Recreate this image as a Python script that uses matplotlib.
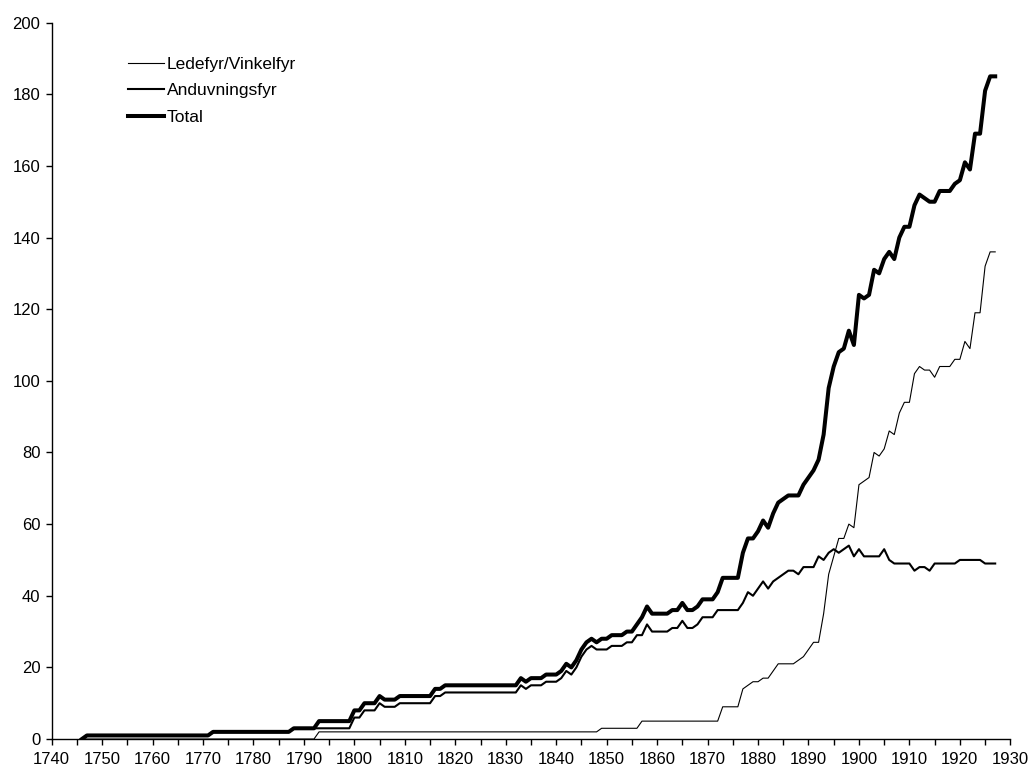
import matplotlib
matplotlib.use("Agg")
import matplotlib.pyplot as plt
from matplotlib.ticker import MultipleLocator

plt.rcParams['font.family'] = ['Liberation Sans', 'DejaVu Sans']

years = list(range(1746, 1928))

ledefyr = [
    0,
    0, 0, 0, 0, 0, 0, 0, 0, 0, 0, 0, 0, 0, 0, 0, 0, 0, 0, 0, 0, 0, 0, 0, 0, 0,   # 1747-1771
    0, 0, 0, 0, 0, 0, 0, 0, 0, 0, 0, 0, 0, 0, 0, 0,                              # 1772-1787
    0, 0, 0, 0, 0,                                                               # 1788-1792
    2, 2, 2, 2, 2, 2, 2,                                                         # 1793-1799
    2, 2, 2, 2, 2, 2, 2, 2, 2, 2, 2, 2, 2, 2, 2, 2, 2, 2, 2, 2,                  # 1800-1819
    2, 2, 2, 2, 2, 2, 2, 2, 2, 2, 2, 2, 2, 2, 2, 2, 2, 2, 2, 2,                  # 1820-1839
    2, 2, 2, 2, 2, 2, 2, 2, 2,                                                   # 1840-1848
    3, 3, 3, 3, 3, 3, 3, 3,                                                      # 1849-1856
    5, 5, 5, 5, 5, 5, 5, 5, 5, 5, 5, 5, 5, 5, 5, 5,                              # 1857-1872
    9, 9, 9, 9,                                                                  # 1873-1876
    14, 15, 16, 16, 17, 17, 19, 21, 21, 21, 21, 22, 23, 25, 27, 27,              # 1877-1892
    35, 46, 51, 56, 56, 60, 59, 71, 72, 73, 80, 79, 81, 86, 85, 91, 94, 94,      # 1893-1910
    102, 104, 103, 103, 101, 104, 104, 104, 106, 106, 111, 109, 119, 119,        # 1911-1924
    132, 136, 136,                                                               # 1925-1927
]

anduvningsfyr = [
    0,
    1, 1, 1, 1, 1, 1, 1, 1, 1, 1, 1, 1, 1, 1, 1, 1, 1, 1, 1, 1, 1, 1, 1, 1, 1,   # 1747-1771
    2, 2, 2, 2, 2, 2, 2, 2, 2, 2, 2, 2, 2, 2, 2, 2,                              # 1772-1787
    3, 3, 3, 3, 3,                                                               # 1788-1792
    3, 3, 3, 3, 3, 3, 3,                                                         # 1793-1799
    6, 6, 8, 8, 8, 10, 9, 9, 9, 10, 10, 10, 10, 10, 10, 10, 12, 12, 13, 13,      # 1800-1819
    13, 13, 13, 13, 13, 13, 13, 13, 13, 13, 13, 13, 13, 15, 14, 15, 15, 15, 16, 16,  # 1820-1839
    16, 17, 19, 18, 20, 23, 25, 26, 25,                                          # 1840-1848
    25, 25, 26, 26, 26, 27, 27, 29,                                              # 1849-1856
    29, 32, 30, 30, 30, 30, 31, 31, 33, 31, 31, 32, 34, 34, 34, 36,              # 1857-1872
    36, 36, 36, 36,                                                              # 1873-1876
    38, 41, 40, 42, 44, 42, 44, 45, 46, 47, 47, 46, 48, 48, 48, 51,              # 1877-1892
    50, 52, 53, 52, 53, 54, 51, 53, 51, 51, 51, 51, 53, 50, 49, 49, 49, 49,      # 1893-1910
    47, 48, 48, 47, 49, 49, 49, 49, 49, 50, 50, 50, 50, 50,                      # 1911-1924
    49, 49, 49,                                                                  # 1925-1927
]

total = [
    0,
    1, 1, 1, 1, 1, 1, 1, 1, 1, 1, 1, 1, 1, 1, 1, 1, 1, 1, 1, 1, 1, 1, 1, 1, 1,   # 1747-1771
    2, 2, 2, 2, 2, 2, 2, 2, 2, 2, 2, 2, 2, 2, 2, 2,                              # 1772-1787
    3, 3, 3, 3, 3,                                                               # 1788-1792
    5, 5, 5, 5, 5, 5, 5,                                                         # 1793-1799
    8, 8, 10, 10, 10, 12, 11, 11, 11, 12, 12, 12, 12, 12, 12, 12, 14, 14, 15, 15,    # 1800-1819
    15, 15, 15, 15, 15, 15, 15, 15, 15, 15, 15, 15, 15, 17, 16, 17, 17, 17, 18, 18,  # 1820-1839
    18, 19, 21, 20, 22, 25, 27, 28, 27,                                          # 1840-1848
    28, 28, 29, 29, 29, 30, 30, 32,                                              # 1849-1856
    34, 37, 35, 35, 35, 35, 36, 36, 38, 36, 36, 37, 39, 39, 39, 41,              # 1857-1872
    45, 45, 45, 45,                                                              # 1873-1876
    52, 56, 56, 58, 61, 59, 63, 66, 67, 68, 68, 68, 71, 73, 75, 78,              # 1877-1892
    85, 98, 104, 108, 109, 114, 110, 124, 123, 124, 131, 130, 134, 136, 134, 140, 143, 143,  # 1893-1910
    149, 152, 151, 150, 150, 153, 153, 153, 155, 156, 161, 159, 169, 169,        # 1911-1924
    181, 185, 185,                                                               # 1925-1927
]

series_labels = ["Ledefyr/Vinkelfyr", "Anduvningsfyr", "Total"]

fig = plt.figure(figsize=(10.32, 7.72), dpi=100)
ax = fig.add_axes([0.050, 0.0427, 0.929, 0.928])

ax.plot(years, ledefyr, color='black', lw=0.8, label=series_labels[0])
ax.plot(years, anduvningsfyr, color='black', lw=1.5, label=series_labels[1])
ax.plot(years, total, color='black', lw=2.9, label=series_labels[2])

ax.set_xlim(1740, 1930)
ax.set_ylim(0, 200)
ax.xaxis.set_major_locator(MultipleLocator(10))
ax.xaxis.set_minor_locator(MultipleLocator(5))
ax.yaxis.set_major_locator(MultipleLocator(20))

for s in ['top', 'right']:
    ax.spines[s].set_visible(False)
for s in ['left', 'bottom']:
    ax.spines[s].set_linewidth(1.0)
    ax.spines[s].set_color('black')

ax.tick_params(axis='both', which='both', direction='out', length=4, width=1,
               colors='black', labelsize=12)
ax.tick_params(axis='y', pad=4)
ax.tick_params(axis='x', pad=5)

ax.legend(loc='upper left', bbox_to_anchor=(0.063, 0.9745), frameon=False,
          fontsize=12.5, handlelength=2.1, handletextpad=0.15, labelspacing=0.67)

fig.savefig("out.png", dpi=100)
